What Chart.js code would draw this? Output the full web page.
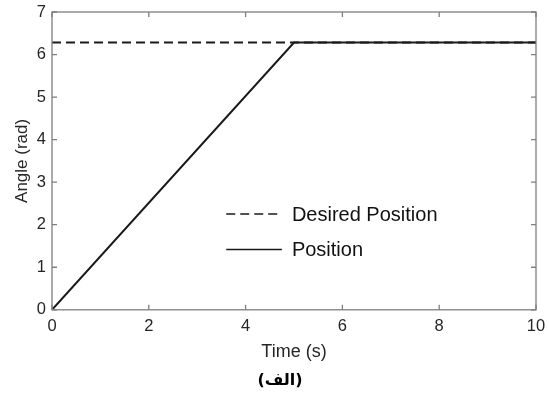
<!DOCTYPE html>
<html><head><meta charset="utf-8">
<script src="https://cdn.jsdelivr.net/npm/chart.js@4/dist/chart.umd.min.js"></script>
<style>html,body{margin:0;padding:0;background:#fff}#wrap{width:549px;height:396px}</style>
</head><body><div id="wrap"><canvas id="c" width="549" height="396"></canvas></div>
<script>
const desiredTime = [0, 10];
const desiredAngle = [6.283, 6.283];
const positionTime = [0, 5, 10];
const positionAngle = [0, 6.283, 6.283];
const xTicks = [0, 2, 4, 6, 8, 10];
const yTicks = [0, 1, 2, 3, 4, 5, 6, 7];
const seriesLabels = ['Desired Position', 'Position'];
const xTitle = 'Time (s)';
const yTitle = 'Angle (rad)';
const caption = '(الف)';

const FONT = "'Liberation Sans', Arial, sans-serif";
const AXIS = '#7f7f7f';
const TXT = '#262626';

const boxPlugin = {
  id: 'box',
  afterDraw(chart) {
    const {ctx, chartArea: a, scales: {x, y}} = chart;
    ctx.save();
    ctx.strokeStyle = AXIS; ctx.lineWidth = 1.3;
    ctx.strokeRect(a.left, a.top, a.right - a.left, a.bottom - a.top);
    const L = 5;
    ctx.beginPath();
    xTicks.forEach(v => { const p = x.getPixelForValue(v);
      ctx.moveTo(p, a.bottom); ctx.lineTo(p, a.bottom - L);
      ctx.moveTo(p, a.top); ctx.lineTo(p, a.top + L); });
    yTicks.forEach(v => { const p = y.getPixelForValue(v);
      ctx.moveTo(a.left, p); ctx.lineTo(a.left + L, p);
      ctx.moveTo(a.right, p); ctx.lineTo(a.right - L, p); });
    ctx.stroke();
    // legend
    const lx0 = x.getPixelForValue(3.6), lx1 = x.getPixelForValue(4.75);
    const rows = [y.getPixelForValue(2.25), y.getPixelForValue(1.42)];
    chart.data.datasets.forEach((ds, i) => {
      ctx.strokeStyle = ds.borderColor; ctx.lineWidth = 1.5;
      ctx.setLineDash(ds.borderDash || []);
      ctx.beginPath(); ctx.moveTo(lx0, rows[i]); ctx.lineTo(lx1, rows[i]); ctx.stroke();
      ctx.setLineDash([]);
      ctx.fillStyle = '#111'; ctx.font = '20px ' + FONT;
      ctx.textBaseline = 'middle'; ctx.textAlign = 'left';
      ctx.fillText(ds.label, lx1 + 10, rows[i] + 1);
    });
    ctx.restore();
  }
};

new Chart(document.getElementById('c'), {
  type: 'line',
  data: {
    datasets: [
      { label: seriesLabels[0], data: desiredTime.map((t, i) => ({x: t, y: desiredAngle[i]})),
        borderColor: '#1a1a1a', borderWidth: 2, borderDash: [9, 5], pointRadius: 0, fill: false },
      { label: seriesLabels[1], data: positionTime.map((t, i) => ({x: t, y: positionAngle[i]})),
        borderColor: '#1a1a1a', borderWidth: 2, pointRadius: 0, fill: false }
    ]
  },
  options: {
    responsive: false, animation: false,
    layout: { padding: { top: 12, right: 13, left: 24, bottom: 0 } },
    plugins: {
      legend: { display: false },
      tooltip: { enabled: false },
      title: { display: true, position: 'bottom', text: caption, color: '#000',
        font: { family: "'DejaVu Sans', sans-serif", size: 16, weight: 'bold' },
        padding: { top: 5, bottom: 6 } }
    },
    scales: {
      x: {
        type: 'linear', min: 0, max: 10,
        afterBuildTicks: s => { s.ticks = xTicks.map(v => ({value: v})); },
        afterFit: s => { s.height = 56; s.paddingRight = 0; s.paddingLeft = 0; },
        grid: { display: false, drawTicks: false },
        border: { display: false },
        ticks: { color: TXT, padding: 7, font: { family: FONT, size: 16.5 }, maxRotation: 0 },
        title: { display: true, text: xTitle, color: TXT, font: { family: FONT, size: 18 }, padding: { top: 0, bottom: 3 } }
      },
      y: {
        type: 'linear', min: 0, max: 7,
        afterBuildTicks: s => { s.ticks = yTicks.map(v => ({value: v})); },
        afterFit: s => { s.width = 28; s.paddingTop = 0; s.paddingBottom = 0; },
        grid: { display: false, drawTicks: false },
        border: { display: false },
        ticks: { color: TXT, padding: 6, font: { family: FONT, size: 16.5 } },
        title: { display: true, text: yTitle, color: TXT, font: { family: FONT, size: 17 }, padding: { top: -12, bottom: 0 } }
      }
    }
  },
  plugins: [boxPlugin]
});
</script></body></html>
